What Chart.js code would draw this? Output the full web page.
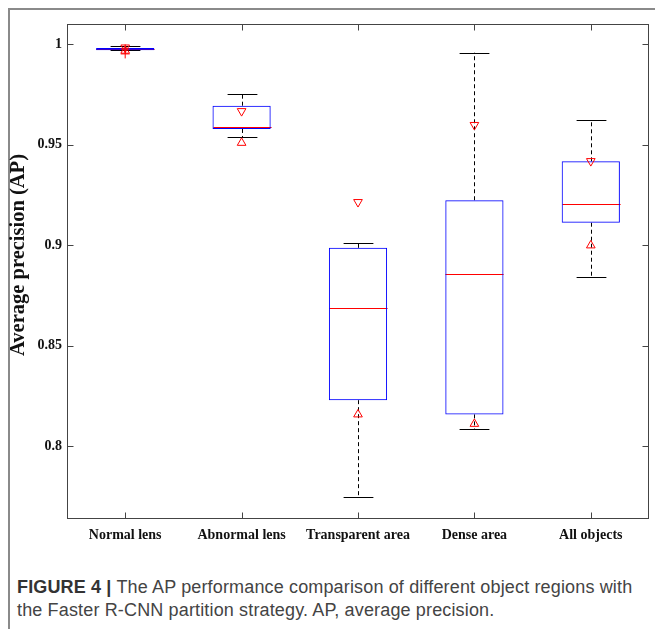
<!DOCTYPE html>
<html>
<head>
<meta charset="utf-8">
<script src="https://cdn.jsdelivr.net/npm/chart.js@4"></script>
<style>
  html, body { margin: 0; padding: 0; background: #fff; }
  body { width: 655px; height: 629px; position: relative; overflow: hidden; }
  #frameTop { position: absolute; left: 8px; top: 8px; width: 647px; height: 2px; background: #8a8a8a; }
  #frameLeft { position: absolute; left: 8px; top: 8px; width: 2px; height: 621px; background: #8a8a8a; }
  #wrap { position: absolute; left: 0; top: 0; width: 655px; height: 560px; }
  #caption {
    position: absolute; left: 17px; top: 576px; width: 632px;
    font-family: "Liberation Sans", Arial, sans-serif; font-size: 18px; letter-spacing: 0.15px;
    line-height: 23px; color: #444;
  }
  #caption b { color: #333; }
</style>
</head>
<body>
<div id="frameTop"></div>
<div id="frameLeft"></div>
<div id="wrap"><canvas id="boxChart" width="655" height="560"></canvas></div>
<div id="caption"><b>FIGURE 4 |</b> The AP performance comparison of different object regions with the Faster R-CNN partition strategy. AP, average precision.</div>
<script>
const categories = ['Normal lens', 'Abnormal lens', 'Transparent area', 'Dense area', 'All objects'];
const whiskerLow = [0.9970, 0.9537, 0.7744, 0.8085, 0.8841];
const q1 = [0.9971, 0.9579, 0.8228, 0.8157, 0.9112];
const median = [0.9977, 0.9589, 0.8686, 0.8855, 0.9205];
const q3 = [0.9983, 0.9695, 0.8987, 0.9224, 0.9418];
const whiskerHigh = [0.9992, 0.9755, 0.9009, 0.9959, 0.9622];
const notchHigh = [0.9985, 0.9668, 0.9215, 0.9599, 0.9419];
const notchLow = [0.9969, 0.9510, 0.8157, 0.8110, 0.8999];
const outlierCats = ['Normal lens', 'Normal lens'];
const outlierVals = [0.9953, 0.9978];
const tickValues = [0.8, 0.85, 0.9, 0.95, 1];
const tickLabels = ['0.8', '0.85', '0.9', '0.95', '1'];
const yTitle = 'Average precision (AP)';

const serifBold = { family: '"Liberation Serif", "Times New Roman", serif', weight: 'bold', size: 14 };

// whiskers, caps, medians, axes box with inward ticks
const boxPlotExtras = {
  id: 'boxPlotExtras',
  beforeDatasetsDraw(chart) {
    const ctx = chart.ctx;
    const xs = chart.scales.x, ys = chart.scales.y;
    const catW = xs.getPixelForValue(1) - xs.getPixelForValue(0);
    ctx.save();
    categories.forEach((c, i) => {
      const x = Math.round(xs.getPixelForValue(i)) + 0.5;
      const capHalf = catW * 0.128;
      const boxHalf = catW * 0.25;
      // dashed whiskers
      ctx.strokeStyle = '#000';
      ctx.lineWidth = 1;
      ctx.setLineDash([4, 3]);
      ctx.beginPath();
      ctx.moveTo(x, ys.getPixelForValue(q3[i]));
      ctx.lineTo(x, ys.getPixelForValue(whiskerHigh[i]));
      ctx.moveTo(x, ys.getPixelForValue(q1[i]));
      ctx.lineTo(x, ys.getPixelForValue(whiskerLow[i]));
      ctx.stroke();
      ctx.setLineDash([]);
      // caps
      ctx.beginPath();
      [whiskerHigh[i], whiskerLow[i]].forEach(v => {
        const y = Math.round(ys.getPixelForValue(v)) + 0.5;
        ctx.moveTo(x - capHalf, y);
        ctx.lineTo(x + capHalf, y);
      });
      ctx.stroke();
      // median
      ctx.strokeStyle = '#ff0000';
      ctx.beginPath();
      const my = Math.round(ys.getPixelForValue(median[i])) + 0.5;
      ctx.moveTo(x - boxHalf, my);
      ctx.lineTo(x + boxHalf, my);
      ctx.stroke();
    });
    ctx.restore();
  },
  afterDraw(chart) {
    const ctx = chart.ctx;
    const a = chart.chartArea;
    const xs = chart.scales.x, ys = chart.scales.y;
    const L = Math.round(a.left) + 0.5, R = Math.round(a.right) - 0.5;
    const T = Math.round(a.top) + 0.5, B = Math.round(a.bottom) - 0.5;
    ctx.save();
    ctx.strokeStyle = '#444';
    ctx.lineWidth = 1;
    ctx.strokeRect(L, T, R - L, B - T);
    ctx.beginPath();
    tickValues.forEach(v => {
      const y = Math.round(ys.getPixelForValue(v)) + 0.5;
      ctx.moveTo(L, y); ctx.lineTo(L + 6, y);
      ctx.moveTo(R, y); ctx.lineTo(R - 6, y);
    });
    categories.forEach((c, i) => {
      const x = Math.round(xs.getPixelForValue(i)) + 0.5;
      ctx.moveTo(x, B); ctx.lineTo(x, B - 6);
      ctx.moveTo(x, T); ctx.lineTo(x, T + 6);
    });
    ctx.stroke();
    // y axis title
    ctx.translate(19, 255);
    ctx.rotate(-Math.PI / 2);
    ctx.fillStyle = '#111';
    ctx.font = 'bold 20.5px "Liberation Serif", "Times New Roman", serif';
    ctx.textAlign = 'center';
    ctx.textBaseline = 'middle';
    ctx.fillText(yTitle, 0, 0);
    ctx.restore();
  }
};

new Chart(document.getElementById('boxChart').getContext('2d'), {
  data: {
    labels: categories,
    datasets: [
      {
        type: 'bar',
        data: categories.map((c, i) => [q1[i], q3[i]]),
        backgroundColor: 'rgba(0,0,0,0)',
        borderColor: '#0000ff',
        borderWidth: 1,
        borderSkipped: false,
        barPercentage: 0.5,
        categoryPercentage: 1,
        order: 3
      },
      {
        type: 'line',
        data: notchHigh,
        showLine: false,
        pointStyle: 'triangle',
        rotation: 180,
        pointRadius: 5,
        pointBackgroundColor: 'rgba(0,0,0,0)',
        pointBorderColor: '#ff0000',
        pointBorderWidth: 1,
        order: 2
      },
      {
        type: 'line',
        data: notchLow,
        showLine: false,
        pointStyle: 'triangle',
        pointRadius: 5,
        pointBackgroundColor: 'rgba(0,0,0,0)',
        pointBorderColor: '#ff0000',
        pointBorderWidth: 1,
        order: 2
      },
      {
        type: 'line',
        data: outlierCats.map((c, i) => ({ x: c, y: outlierVals[i] })),
        showLine: false,
        pointStyle: 'cross',
        pointRadius: 4.5,
        pointBorderColor: '#ff0000',
        pointBorderWidth: 1,
        order: 1
      }
    ]
  },
  options: {
    responsive: false,
    animation: false,
    devicePixelRatio: 1,
    layout: { padding: { top: 24, right: 4, left: 0, bottom: 0 } },
    plugins: { legend: { display: false }, tooltip: { enabled: false } },
    scales: {
      x: {
        type: 'category',
        offset: true,
        grid: { display: false, drawTicks: false },
        border: { display: false },
        ticks: { color: '#111', font: serifBold, padding: 8, maxRotation: 0, autoSkip: false },
        afterFit(scale) { scale.height = 41; }
      },
      y: {
        type: 'linear',
        min: 0.7636,
        max: 1.0102,
        grid: { display: false, drawTicks: false },
        border: { display: false },
        afterBuildTicks(scale) { scale.ticks = tickValues.map(v => ({ value: v })); },
        ticks: {
          color: '#111',
          font: serifBold,
          padding: 5,
          callback: (v, i) => tickLabels[i]
        },
        afterFit(scale) { scale.width = 67; }
      }
    }
  },
  plugins: [boxPlotExtras]
});
</script>
</body>
</html>
